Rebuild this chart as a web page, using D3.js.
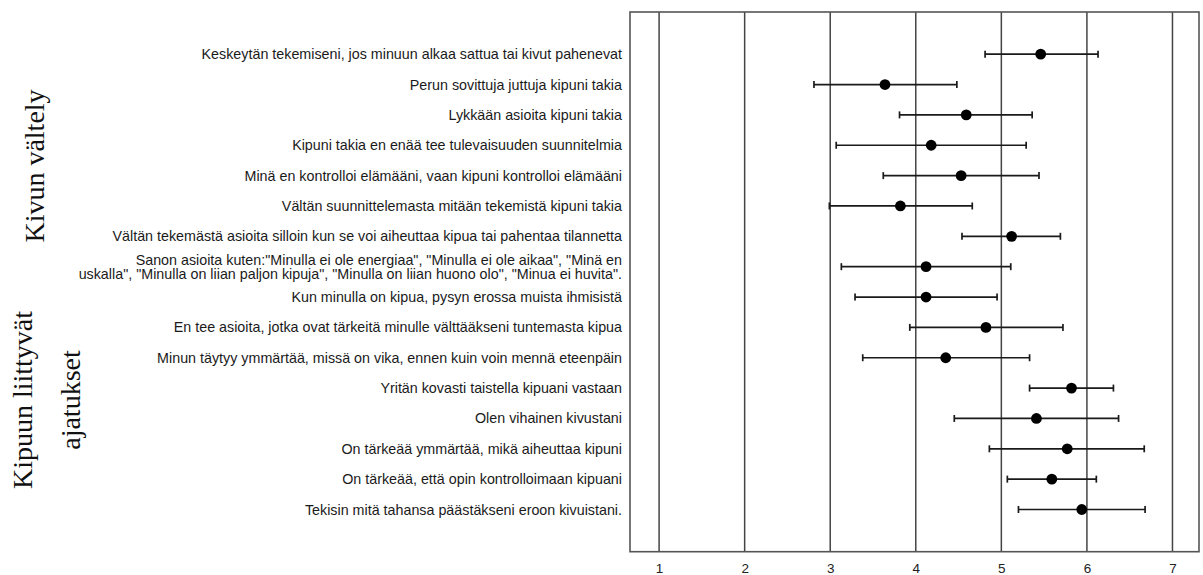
<!DOCTYPE html>
<html>
<head>
<meta charset="utf-8">
<script src="https://cdn.jsdelivr.net/npm/d3@7"></script>
<style>
  html, body { margin: 0; padding: 0; background: #fff; }
  svg { display: block; }
</style>
</head>
<body>
<svg id="chart" width="1203" height="575"></svg>
<script>
const categories = [
  "Keskeytän tekemiseni, jos minuun alkaa sattua tai kivut pahenevat",
  "Perun sovittuja juttuja kipuni takia",
  "Lykkään asioita kipuni takia",
  "Kipuni takia en enää tee tulevaisuuden suunnitelmia",
  "Minä en kontrolloi elämääni, vaan kipuni kontrolloi elämääni",
  "Vältän suunnittelemasta mitään tekemistä kipuni takia",
  "Vältän tekemästä asioita silloin kun se voi aiheuttaa kipua tai pahentaa tilannetta",
  "Sanon asioita kuten:\"Minulla ei ole energiaa\", \"Minulla ei ole aikaa\", \"Minä en\nuskalla\", \"Minulla on liian paljon kipuja\", \"Minulla on liian huono olo\", \"Minua ei huvita\".",
  "Kun minulla on kipua, pysyn erossa muista ihmisistä",
  "En tee asioita, jotka ovat tärkeitä minulle välttääkseni tuntemasta kipua",
  "Minun täytyy ymmärtää, missä on vika, ennen kuin voin mennä eteenpäin",
  "Yritän kovasti taistella kipuani vastaan",
  "Olen vihainen kivustani",
  "On tärkeää ymmärtää, mikä aiheuttaa kipuni",
  "On tärkeää, että opin kontrolloimaan kipuani",
  "Tekisin mitä tahansa päästäkseni eroon kivuistani."
];
const means = [5.46, 3.64, 4.59, 4.18, 4.53, 3.82, 5.12, 4.12, 4.12, 4.82, 4.35, 5.82, 5.41, 5.77, 5.59, 5.94];
const lower = [4.81, 2.81, 3.81, 3.07, 3.62, 2.99, 4.54, 3.13, 3.29, 3.93, 3.38, 5.33, 4.45, 4.86, 5.07, 5.20];
const upper = [6.13, 4.48, 5.36, 5.29, 5.44, 4.66, 5.69, 5.11, 4.95, 5.72, 5.33, 6.31, 6.37, 6.67, 6.11, 6.68];
const tickValues = [1, 2, 3, 4, 5, 6, 7];
const tickLabels = ["1", "2", "3", "4", "5", "6", "7"];
const groupLabels = [
  { lines: ["Kivun vältely"] },
  { lines: ["Kipuun liittyvät", "ajatukset"] }
];

const rows = categories.map((c, i) => ({ label: c, mean: means[i], lo: lower[i], hi: upper[i], i }));

const svg = d3.select("#chart");
const frame = { left: 630, right: 1199, top: 12, bottom: 551.7 };

const x = d3.scaleLinear().domain([0.66, 7.31]).range([frame.left, frame.right]);
const y = d3.scalePoint().domain(d3.range(categories.length)).range([frame.top, frame.bottom]).padding(1.39);

// gridlines
svg.append("g").selectAll("line").data(tickValues).join("line")
  .attr("x1", d => x(d)).attr("x2", d => x(d))
  .attr("y1", frame.top).attr("y2", frame.bottom)
  .attr("stroke", "#444").attr("stroke-width", 1.5);

// frame
svg.append("rect")
  .attr("x", frame.left).attr("y", frame.top)
  .attr("width", frame.right - frame.left).attr("height", frame.bottom - frame.top)
  .attr("fill", "none").attr("stroke", "#555").attr("stroke-width", 1.6);

// x axis labels
const xAxis = d3.axisBottom(x).tickValues(tickValues).tickSize(0).tickPadding(0)
  .tickFormat((d, i) => tickLabels[i]);
const gx = svg.append("g").attr("transform", `translate(0,${frame.bottom})`).call(xAxis);
gx.select(".domain").remove();
gx.selectAll("text")
  .attr("y", 16.5).attr("dy", "0.35em")
  .attr("font-family", "'Liberation Sans', Arial, sans-serif")
  .attr("font-size", 13.5).attr("fill", "#222");

// error bars
const eb = svg.append("g").attr("stroke", "#1a1a1a").attr("stroke-width", 1.7);
eb.selectAll("line.bar").data(rows).join("line").attr("class", "bar")
  .attr("x1", d => x(d.lo)).attr("x2", d => x(d.hi))
  .attr("y1", d => y(d.i)).attr("y2", d => y(d.i));
eb.selectAll("line.caplo").data(rows).join("line").attr("class", "caplo")
  .attr("x1", d => x(d.lo)).attr("x2", d => x(d.lo))
  .attr("y1", d => y(d.i) - 3.5).attr("y2", d => y(d.i) + 3.5);
eb.selectAll("line.caphi").data(rows).join("line").attr("class", "caphi")
  .attr("x1", d => x(d.hi)).attr("x2", d => x(d.hi))
  .attr("y1", d => y(d.i) - 3.5).attr("y2", d => y(d.i) + 3.5);

// dots
svg.append("g").selectAll("circle").data(rows).join("circle")
  .attr("cx", d => x(d.mean)).attr("cy", d => y(d.i)).attr("r", 5.4)
  .attr("fill", "#000");

// category labels
const lab = svg.append("g")
  .attr("font-family", "'Liberation Sans', Arial, sans-serif")
  .attr("font-size", 14.3).attr("fill", "#1a1a1a").attr("text-anchor", "end");
lab.selectAll("text").data(rows).join("text")
  .attr("x", frame.left - 8)
  .attr("y", d => y(d.i))
  .each(function(d) {
    const lines = d.label.split("\n");
    const t = d3.select(this);
    const lh = 14;
    lines.forEach((ln, k) => {
      t.append("tspan")
        .attr("x", frame.left - 8)
        .attr("y", y(d.i) + (k - (lines.length - 1) / 2) * lh)
        .attr("dy", "0.35em")
        .text(ln);
    });
  });

// group labels (rotated)
const groupPos = [
  { cx: [44], cy: 166 },
  { cx: [32, 80], cy: 400 }
];
groupLabels.forEach((g, gi) => {
  g.lines.forEach((ln, k) => {
    svg.append("text")
      .attr("transform", `translate(${groupPos[gi].cx[k]},${groupPos[gi].cy}) rotate(-90)`)
      .attr("text-anchor", "middle")
      .attr("font-family", "'Liberation Serif', 'Times New Roman', serif")
      .attr("font-size", 28).attr("fill", "#111")
      .text(ln);
  });
});
</script>
</body>
</html>
